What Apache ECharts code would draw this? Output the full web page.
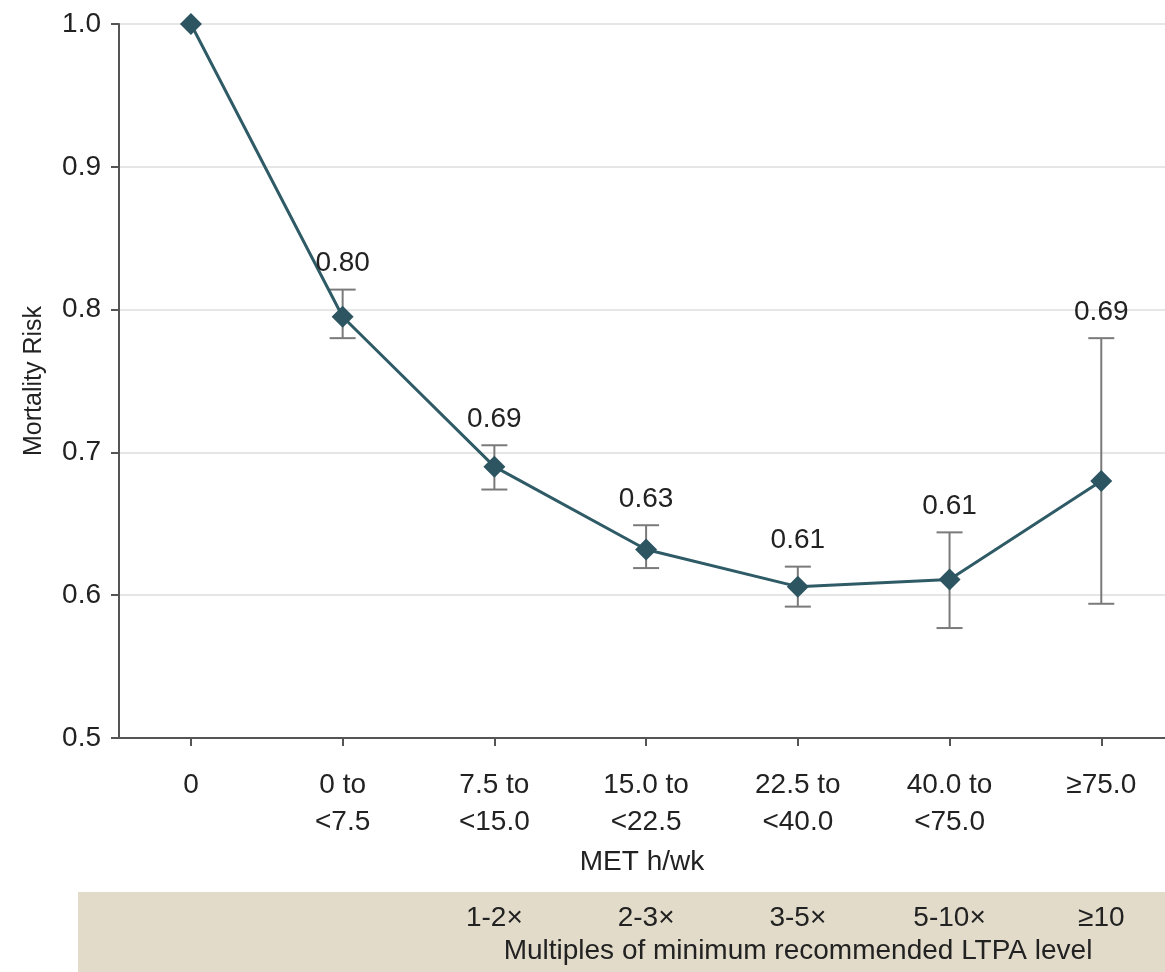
<!DOCTYPE html>
<html>
<head>
<meta charset="utf-8">
<script src="https://cdn.jsdelivr.net/npm/echarts@6/dist/echarts.min.js"></script>
<style>
  html, body { margin: 0; padding: 0; background: #fff; }
  #chart { width: 1165px; height: 972px; }
</style>
</head>
<body>
<div id="chart"></div>
<script>
var categories = ['0', '0 to\n<7.5', '7.5 to\n<15.0', '15.0 to\n<22.5', '22.5 to\n<40.0', '40.0 to\n<75.0', '≥75.0']
var risk = [1.0, 0.795, 0.69, 0.632, 0.606, 0.611, 0.68]
var lower = [null, 0.78, 0.674, 0.619, 0.592, 0.577, 0.594]
var upper = [null, 0.814, 0.705, 0.649, 0.62, 0.644, 0.78]
var valueLabels = ['', '0.80', '0.69', '0.63', '0.61', '0.61', '0.69']
var multiples = ['', '', '1-2×', '2-3×', '3-5×', '5-10×', '≥10']

var FONT = '"Liberation Sans", Arial, sans-serif'
var TEXT = '#222'
var idx = categories.map(function (c, i) { return i })

var chart = echarts.init(document.getElementById('chart'))

var lineData = risk.map(function (v, i) { return [i, v] })
var barData = []
var labelData = []
for (var i = 0; i < risk.length; i++) {
  if (lower[i] != null) {
    barData.push([i, lower[i], upper[i]])
    labelData.push([i, upper[i], valueLabels[i]])
  }
}

chart.setOption({
  animation: false,
  textStyle: { fontFamily: FONT },
  grid: { left: 119, right: 0, top: 24, bottom: 234 },
  xAxis: [{
    type: 'value',
    min: -0.474,
    max: 6.42,
    splitLine: { show: false },
    axisLine: { onZero: false, lineStyle: { color: '#555', width: 2 } },
    axisTick: { show: true, length: 8, customValues: idx, lineStyle: { color: '#555', width: 2 } },
    axisLabel: {
      customValues: idx,
      margin: 29,
      fontSize: 28,
      lineHeight: 37,
      color: TEXT,
      fontFamily: FONT,
      formatter: function (v) { return categories[Math.round(v)] }
    },
    name: 'MET h/wk',
    nameLocation: 'middle',
    nameGap: 110,
    nameTextStyle: { fontSize: 28, color: TEXT, fontFamily: FONT }
  }, {
    type: 'value',
    position: 'bottom',
    offset: 160,
    min: -0.474,
    max: 6.42,
    splitLine: { show: false },
    axisLine: { show: false, onZero: false },
    axisTick: { show: false },
    axisLabel: {
      customValues: idx,
      margin: 6,
      fontSize: 28,
      color: TEXT,
      fontFamily: FONT,
      formatter: function (v) { return multiples[Math.round(v)] }
    }
  }],
  yAxis: {
    type: 'value',
    min: 0.5,
    max: 1.0,
    interval: 0.1,
    axisLine: { show: true, onZero: false, lineStyle: { color: '#555', width: 2 } },
    axisTick: { show: true, length: 8, lineStyle: { color: '#555', width: 2 } },
    axisLabel: {
      margin: 18,
      fontSize: 28,
      color: TEXT,
      fontFamily: FONT,
      formatter: function (v) { return v.toFixed(1) }
    },
    splitLine: { show: true, lineStyle: { color: '#e6e6e6', width: 2 } },
    name: 'Mortality Risk',
    nameLocation: 'middle',
    nameGap: 72,
    nameTextStyle: { fontSize: 25, color: TEXT, fontFamily: FONT }
  },
  graphic: [{
    type: 'rect',
    z: -10,
    shape: { x: 78, y: 892, width: 1087, height: 80 },
    style: { fill: '#e2dbc9' }
  }, {
    type: 'text',
    z: 10,
    x: 798,
    y: 951,
    style: {
      text: 'Multiples of minimum recommended LTPA level',
      font: '28px ' + FONT,
      fill: TEXT,
      align: 'center',
      verticalAlign: 'middle'
    }
  }],
  series: [{
    type: 'custom',
    data: barData,
    z: 2,
    renderItem: function (params, api) {
      var x = api.coord([api.value(0), api.value(1)])[0]
      var lo = api.coord([api.value(0), api.value(1)])[1]
      var hi = api.coord([api.value(0), api.value(2)])[1]
      var half = 13
      var style = { stroke: '#7a7a7a', lineWidth: 2 }
      return {
        type: 'group',
        children: [
          { type: 'line', shape: { x1: x, y1: lo, x2: x, y2: hi }, style: style },
          { type: 'line', shape: { x1: x - half, y1: lo, x2: x + half, y2: lo }, style: style },
          { type: 'line', shape: { x1: x - half, y1: hi, x2: x + half, y2: hi }, style: style }
        ]
      }
    }
  }, {
    type: 'line',
    data: lineData,
    z: 3,
    symbol: 'diamond',
    symbolSize: 22,
    lineStyle: { color: '#2f5b67', width: 3 },
    itemStyle: { color: '#2d5561' }
  }, {
    type: 'scatter',
    data: labelData,
    symbolSize: 0,
    z: 4,
    itemStyle: { opacity: 1 },
    label: {
      show: true,
      position: 'top',
      distance: 12,
      fontSize: 28,
      color: TEXT,
      fontFamily: FONT,
      formatter: function (p) { return p.value[2] }
    }
  }]
})
</script>
</body>
</html>
